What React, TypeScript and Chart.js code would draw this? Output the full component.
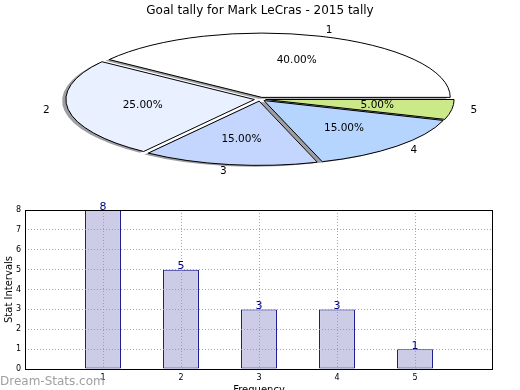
import React, { useEffect, useRef } from "react";
import { Chart, registerables } from "chart.js";

Chart.register(...registerables);

// ---------- data ----------
const TITLE = "Goal tally for Mark LeCras - 2015 tally";
const categories = [1, 2, 3, 4, 5];
const goals = [8, 5, 3, 3, 1];
const sliceColors = ["#ffffff", "#e9f0ff", "#c4d6fd", "#b5d5ff", "#cce98a"];
const yTicks = [0, 1, 2, 3, 4, 5, 6, 7, 8];
const xAxisTitle = "Frequency";
const yAxisTitle = "Stat Intervals";
const watermark = "Dream-Stats.com";

// ---------- styles / geometry ----------
const FONT = "'DejaVu Sans', sans-serif";
const PIE_CX = 260;
const PIE_CY = 99.2;
const PIE_R = 188.5;
const PIE_K = 0.341;
const EXPLODE = 0.03;
const SHADOW = 0.02;

const pieSquash = {
  id: "pieSquash",
  beforeDatasetsDraw(chart: any) {
    const ctx = chart.ctx as CanvasRenderingContext2D;
    const meta = chart.getDatasetMeta(0);
    const els = meta.data as any[];
    if (!els.length) return false;
    const cx = els[0].x;
    const cy = els[0].y;
    const d = EXPLODE * PIE_R;
    const sh = SHADOW * PIE_R;
    const mids = els.map((el) => (el.startAngle + el.endAngle) / 2);

    ctx.save();
    const base = ctx.getTransform();
    ctx.translate(PIE_CX, PIE_CY);
    ctx.scale(1, -PIE_K);
    ctx.translate(-cx, -cy);
    const protoStroke = CanvasRenderingContext2D.prototype.stroke;
    (ctx as any).stroke = function (...a: any[]) {
      this.save();
      this.setTransform(base);
      protoStroke.apply(this, a as any);
      this.restore();
    };

    // shadow pass
    els.forEach((el, i) => {
      const orig = el.options;
      el.options = Object.assign({}, orig, {
        backgroundColor: "rgba(60,60,70,0.5)",
        borderWidth: 0,
      });
      ctx.save();
      ctx.translate(Math.cos(mids[i]) * d - sh, Math.sin(mids[i]) * d - sh);
      el.draw(ctx);
      ctx.restore();
      el.options = orig;
    });
    // wedges
    els.forEach((el, i) => {
      ctx.save();
      ctx.translate(Math.cos(mids[i]) * d, Math.sin(mids[i]) * d);
      el.draw(ctx);
      ctx.restore();
    });
    delete (ctx as any).stroke;
    ctx.restore();

    // labels
    const total = goals.reduce((a, b) => a + b, 0);
    ctx.save();
    ctx.fillStyle = "#000";
    ctx.textBaseline = "middle";
    ctx.font = `10.5px ${FONT}`;
    els.forEach((el, i) => {
      const m = mids[i];
      const pt = (f: number) => [
        PIE_CX + Math.cos(m) * (f * PIE_R + d),
        PIE_CY - PIE_K * Math.sin(m) * (f * PIE_R + d),
      ];
      const [px, py] = pt(0.6);
      ctx.textAlign = "center";
      ctx.fillText(((goals[i] / total) * 100).toFixed(2) + "%", px, py);
      const [lx, ly] = pt(1.1);
      ctx.textAlign = Math.cos(m) > 0 ? "left" : "right";
      ctx.fillText(String(categories[i]), lx, ly);
    });
    ctx.restore();
    return false;
  },
};

const barDecor = {
  id: "barDecor",
  afterDraw(chart: any) {
    const ctx = chart.ctx as CanvasRenderingContext2D;
    const a = chart.chartArea;
    ctx.save();
    ctx.strokeStyle = "#000";
    ctx.lineWidth = 1;
    ctx.strokeRect(a.left + 0.5, a.top + 0.5, a.right - a.left - 1, a.bottom - a.top);
    const meta = chart.getDatasetMeta(0);
    ctx.fillStyle = "#00008b";
    ctx.font = `11px ${FONT}`;
    ctx.textAlign = "center";
    ctx.textBaseline = "alphabetic";
    meta.data.forEach((el: any, i: number) => {
      ctx.fillText(String(goals[i]), el.x, el.y - 0.5);
    });
    ctx.fillStyle = "#a0a0a0";
    ctx.font = `12px ${FONT}`;
    ctx.textAlign = "left";
    ctx.fillText(watermark, 0, 195);
    ctx.restore();
  },
};

export default function App() {
  const pieRef = useRef<HTMLCanvasElement>(null);
  const barRef = useRef<HTMLCanvasElement>(null);

  useEffect(() => {
    const pie = new Chart(pieRef.current as HTMLCanvasElement, {
      type: "pie",
      data: {
        labels: categories.map(String),
        datasets: [
          {
            data: goals,
            backgroundColor: sliceColors,
            borderColor: "#000",
            borderWidth: 1,
            offset: 0,
            hoverOffset: 0,
            radius: PIE_R,
            clip: false,
          } as any,
        ],
      },
      options: {
        animation: false,
        responsive: false,
        events: [],
        rotation: 90,
        radius: PIE_R,
        plugins: {
          legend: { display: false },
          tooltip: { enabled: false },
          title: {
            display: true,
            text: TITLE,
            color: "#000",
            font: { family: FONT, size: 12, weight: "normal" },
            padding: { top: 4, bottom: 4 },
          },
        },
      } as any,
      plugins: [pieSquash as any],
    });

    const gridCommon = {
      color: "rgba(150,150,150,0.85)",
      lineWidth: 1,
      drawTicks: false,
      offset: false,
      z: 1,
    };
    const bar = new Chart(barRef.current as HTMLCanvasElement, {
      type: "bar",
      data: {
        datasets: [
          {
            data: categories.map((c, i) => ({ x: c, y: goals[i] })),
            backgroundColor: "rgb(204,204,230)",
            borderColor: "#000080",
            borderWidth: 1,
            borderSkipped: false,
            barPercentage: 0.46,
            categoryPercentage: 1,
          } as any,
        ],
      },
      options: {
        animation: false,
        responsive: false,
        events: [],
        layout: { padding: { top: 20, right: 27, left: 0, bottom: 0 } },
        plugins: { legend: { display: false }, tooltip: { enabled: false } },
        scales: {
          x: {
            type: "linear",
            min: 0,
            max: 6,
            offset: false,
            afterBuildTicks: (s: any) => {
              s.ticks = categories.map((v) => ({ value: v }));
            },
            afterFit: (s: any) => {
              s.height = 31;
            },
            grid: gridCommon,
            border: { display: false, dash: [1, 2] },
            ticks: {
              padding: 4,
              color: "#000",
              font: { family: FONT, size: 8 },
              maxRotation: 0,
              autoSkip: false,
            },
            title: {
              display: true,
              text: xAxisTitle,
              color: "#000",
              font: { family: FONT, size: 10 },
              padding: { top: 0, bottom: 4 },
            },
          },
          y: {
            min: 0,
            max: 8,
            afterBuildTicks: (s: any) => {
              s.ticks = yTicks.map((v) => ({ value: v }));
            },
            afterFit: (s: any) => {
              s.width = 25;
            },
            grid: gridCommon,
            border: { display: false, dash: [1, 2] },
            ticks: {
              padding: 4,
              color: "#000",
              font: { family: FONT, size: 8 },
            },
            title: {
              display: true,
              text: yAxisTitle,
              color: "#000",
              font: { family: FONT, size: 10 },
              padding: { top: 3, bottom: 0 },
            },
          },
        },
      } as any,
      plugins: [barDecor as any],
    });

    return () => {
      pie.destroy();
      bar.destroy();
    };
  }, []);

  return (
    <div
      style={{
        position: "fixed",
        left: 0,
        top: 0,
        width: 520,
        height: 390,
        overflow: "hidden",
        background: "#fff",
      }}
    >
      <canvas
        ref={barRef}
        width={520}
        height={210}
        style={{ position: "absolute", left: 0, top: 190, width: 520, height: 210 }}
      />
      <canvas
        ref={pieRef}
        width={520}
        height={190}
        style={{ position: "absolute", left: 0, top: 0, width: 520, height: 190 }}
      />
    </div>
  );
}
